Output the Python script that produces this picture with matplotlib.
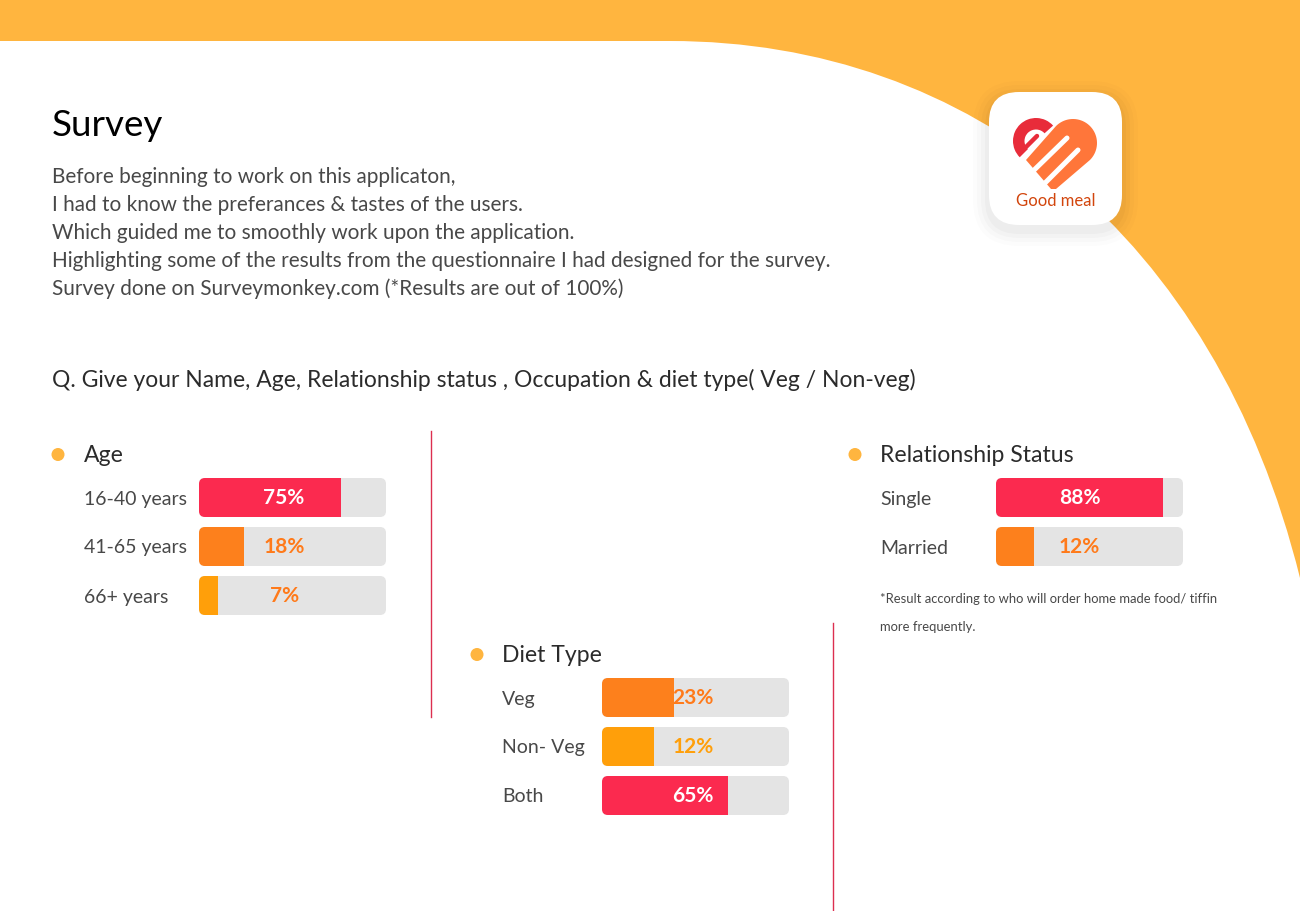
import numpy as np
import matplotlib
matplotlib.use("Agg")
import matplotlib.pyplot as plt
from matplotlib.patches import FancyBboxPatch, PathPatch, Wedge, Circle, Polygon
from matplotlib.path import Path

plt.rcParams['font.family'] = ['Lato', 'DejaVu Sans']

# data
age_cats = ["16-40 years", "41-65 years", "66+ years"]
age_bars = [76, 24, 10]
age_text = ["75%", "18%", "7%"]

diet_cats = ["Veg", "Non- Veg", "Both"]
diet_bars = [38.5, 28, 67.5]
diet_text = ["23%", "12%", "65%"]

rel_cats = ["Single", "Married"]
rel_bars = [89.5, 20.5]
rel_text = ["88%", "12%"]

intro = ["Before beginning to work on this applicaton,",
         "I had to know the preferances & tastes of the users.",
         "Which guided me to smoothly work upon the application.",
         "Highlighting some of the results from the questionnaire I had designed for the survey.",
         "Survey done on Surveymonkey.com (*Results are out of 100%)"]

RED = "#fb2a4f"
ORANGE = "#fd801c"
AMBER = "#ff9f0a"
TRACK = "#e4e4e4"
BAND = "#ffb53f"
TXT_OR = "#ff7a1a"

W, H = 1300, 911
fig = plt.figure(figsize=(13, 9.11), dpi=100, facecolor="white")
bg = fig.add_axes([0, 0, 1, 1])
bg.set_xlim(0, W)
bg.set_ylim(H, 0)
bg.axis("off")

# orange backdrop
verts = [(0, 0), (W, 0), (W, 578), (1215, 235), (970, 41), (670, 41), (0, 41), (0, 0)]
codes = [Path.MOVETO, Path.LINETO, Path.LINETO, Path.CURVE4, Path.CURVE4, Path.CURVE4,
         Path.LINETO, Path.CLOSEPOLY]
bg.add_patch(PathPatch(Path(verts, codes), fc=BAND, ec="none"))

# title + intro
bg.text(52, 126, "Survey", fontsize=26.5, color="black", va="center")
for i, line in enumerate(intro):
    bg.text(52, 177 + i * 28, line, fontsize=14.95, color="#484848", va="center")
bg.text(52, 380, "Q. Give your Name, Age, Relationship status , Occupation & diet type( Veg / Non-veg)",
        fontsize=16.5, color="#2b2b2b", va="center")

# dividers
bg.plot([431, 431], [431, 717], color="#dc2f50", lw=1)
bg.plot([833, 833], [623, 911], color="#dc2f50", lw=1)

# logo card, shadow is a stack of faint bigger cards
for grow, alpha in [(16, 0.012), (12, 0.016), (8, 0.02), (4, 0.025)]:
    bg.add_patch(FancyBboxPatch((1019, 127), 73, 73,
                                boxstyle=f"round,pad={30 + grow},rounding_size={30 + grow}",
                                fc="black", ec="none", alpha=alpha))
bg.add_patch(FancyBboxPatch((1019, 122), 73, 73, boxstyle="round,pad=30,rounding_size=30",
                            fc="white", ec="none"))
# red half of the heart
bg.add_patch(Wedge((1036, 141), 23, 135, 318, width=11.5, fc="#e82c3a", ec="none"))
bg.plot([1024, 1037], [149, 136], color="#e82c3a", lw=3.2, solid_capstyle="round")
# orange fork half
t = np.radians(np.linspace(-135, 45, 40))
lobe = np.column_stack([1073 + 24 * np.cos(t), 143 + 24 * np.sin(t)])
fork = np.vstack([[[1026, 160]], lobe, [[1056, 189], [1051, 189]]])
bg.add_patch(Polygon(fork, closed=True, fc="#ff763a", ec="none"))
bg.plot([1067, 1030], [138, 174], color="white", lw=3.6, solid_capstyle="round")
bg.plot([1078, 1042], [150, 186], color="white", lw=3.6, solid_capstyle="round")
bg.text(1055.5, 201.5, "Good meal", fontsize=12, color="#d2450c", ha="center", va="center")


def panel(x_left, y_top, title, cats, bars, texts, colors, text_colors, text_x, title_x, dot_x, label_x):
    n = len(cats)
    bg.add_patch(Circle((dot_x, y_top - 23.5), 6.5, fc=BAND, ec="none"))
    bg.text(title_x, y_top - 23, title, fontsize=16.6, color="#2b2b2b", va="center")

    rows = np.arange(n)
    half = 19.5 / 49
    height_px = 39 + 49 * (n - 1)
    ax = fig.add_axes([x_left / W, 1 - (y_top + height_px) / H, 187 / W, height_px / H])
    ax.patch.set_alpha(0)
    ax.set_xlim(0, 100)
    ax.set_ylim(n - 1 + half, -half)
    ax.axis("off")
    for i in rows:
        track = FancyBboxPatch((x_left + 6, y_top + 49 * i + 6), 175, 27,
                               boxstyle="round,pad=6,rounding_size=6", fc=TRACK, ec="none")
        bg.add_patch(track)
        fill = ax.barh(i, bars[i], height=2 * half, color=colors[i], edgecolor="none")
        fill[0].set_clip_path(track)
        ax.text(text_x, i + 0.02, texts[i], fontsize=15, fontweight="bold", color=text_colors[i],
                ha="center", va="center")
        bg.text(label_x, y_top + 21 + 49 * i, cats[i], fontsize=14, color="#484848", va="center")


panel(199, 478, "Age", age_cats, age_bars, age_text, [RED, ORANGE, AMBER],
      ["white", TXT_OR, TXT_OR], 45.5, 84, 58, 84)
panel(602, 678, "Diet Type", diet_cats, diet_bars, diet_text, [ORANGE, AMBER, RED],
      [TXT_OR, AMBER, "white"], 48.7, 502, 477, 502)
panel(996, 478, "Relationship Status", rel_cats, rel_bars, rel_text, [RED, ORANGE],
      ["white", TXT_OR], 44.6, 880, 855, 880)

bg.text(880, 599, "*Result according to who will order home made food/ tiffin", fontsize=9.35,
        color="#484848", va="center")
bg.text(880, 627, "more frequently.", fontsize=9.35, color="#484848", va="center")

fig.savefig("out.png", dpi=100, facecolor="white")
